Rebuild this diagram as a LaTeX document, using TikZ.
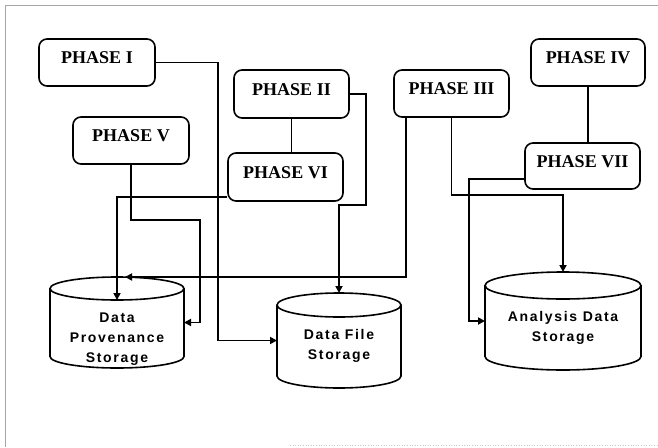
\documentclass[tikz,border=0pt]{standalone}
\usepackage{fontspec}
\setmainfont{Liberation Serif}
\newfontfamily\cylfont[LetterSpace=12]{Liberation Sans}
\usetikzlibrary{arrows.meta,calc}

% body of a storage cylinder drawn round an (invisible) node
\newcommand\cylbody[3]{%
  \draw[cyl] ([yshift=-#3pt]#1.north west) -- ([yshift=#3pt]#1.south west)
    arc[start angle=180,end angle=360,x radius=#2pt,y radius=#3pt]
    -- ([yshift=-#3pt]#1.north east)
    arc[start angle=0,end angle=360,x radius=#2pt,y radius=#3pt];}

\begin{document}
\begin{tikzpicture}[x=1pt,y=1pt,
  phase/.style={draw, rounded corners=8pt, line width=1.6pt, inner sep=0pt,
    minimum width=115pt, minimum height=47pt,
    font=\bfseries\fontsize{18}{20}\selectfont, text height=12pt, text depth=10pt},
  store/.style={inner sep=0pt, outer sep=0pt},
  cyl/.style={line width=1.6pt, fill=white},
  cyltext/.style={align=center, font=\cylfont\bfseries\fontsize{14}{20}\selectfont, inner sep=0pt},
  link/.style={line width=1.7pt, -{Triangle[length=7pt,width=7pt]}},
  plain/.style={line width=1.7pt}]
\useasboundingbox (0,0) rectangle (658,-447);

% frame
\draw[gray!70, line width=0.8pt] (5,-447) -- (5,-5) -- (658,-5);
\draw[gray!40, line width=0.6pt, dotted] (290,-445) -- (658,-445);

% phases
\node[phase, minimum width=116pt] (p1) at (97,-62.5) {PHASE I};
\node[phase, minimum width=116pt] (p5) at (131,-140.5) {PHASE V};
\node[phase, minimum height=48pt] (p2) at (291.5,-94) {PHASE II};
\node[phase, minimum height=48pt] (p6) at (285.5,-177) {PHASE VI};
\node[phase] (p3) at (451.5,-93.5) {PHASE III};
\node[phase, minimum width=114pt] (p4) at (588,-62.5) {PHASE IV};
\node[phase, minimum height=46pt] (p7) at (582.5,-166) {PHASE VII};

% storages
\node[store, minimum width=134pt, minimum height=91pt] (prov) at (117,-322.5) {};
\node[store, minimum width=124pt, minimum height=95pt] (dfs) at (339,-340.5) {};
\node[store, minimum width=156pt, minimum height=98pt] (ads) at (563,-321) {};
\cylbody{prov}{67}{11.5}
\cylbody{dfs}{62}{12}
\cylbody{ads}{78}{13.5}
\node[cyltext] (provtxt) at (117,-339) {Data\\Provenance\\Storage};
\node[cyltext] (dfstxt) at (339,-346) {Data File\\Storage};
\node[cyltext] (adstxt) at (563,-328) {Analysis Data\\Storage};

% connections between phases
\draw[plain] (p2.south) -- (p2.south |- p6.north);
\draw[plain] (p4.south) -- (p4.south |- p7.north);

% connections to storages
\draw[link] (p1.east) -- ++(62,0) |- (dfs.west);
\draw[link] (p5.south) -- ++(0,-55) -| ([xshift=16pt]prov.east) -- (prov.east);
\draw[link] ([yshift=-20pt]p6.west) -| ([yshift=-23pt]prov.north);
\draw[link] ([xshift=-45.5pt]p3.south) |- ([xshift=8pt]prov.north);
\draw[link] (p2.east) -- ++(16,0) |- ([yshift=88pt]dfs.north) -- (dfs.north);
\draw[link] (p3.south) -- ++(0,-77) -| (ads.north);
\draw[link] ([yshift=-13pt]p7.west) -| ([xshift=-16pt]ads.west) -- (ads.west);
\end{tikzpicture}
\end{document}
